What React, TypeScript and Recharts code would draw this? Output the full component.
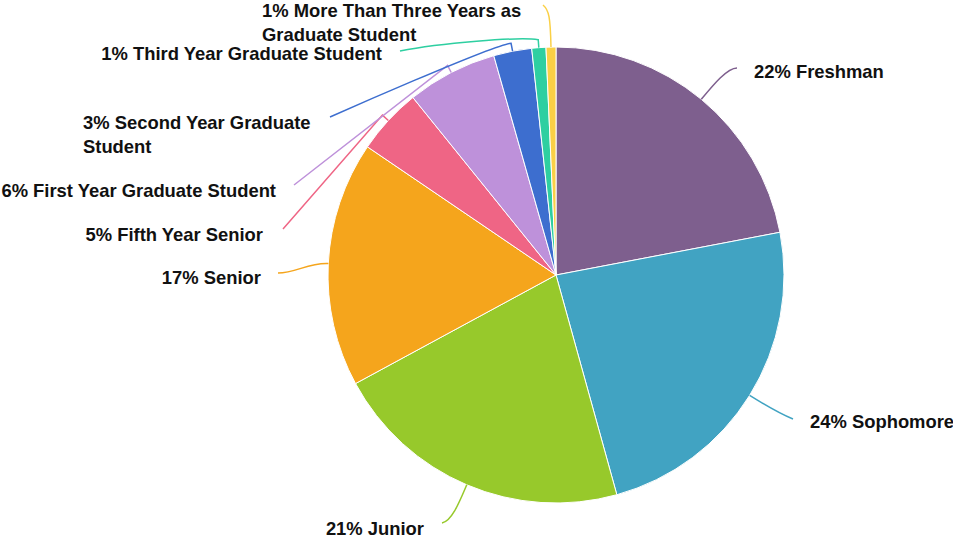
import { PieChart, Pie, Cell } from "recharts";

const classNames = [
  "Freshman",
  "Sophomore",
  "Junior",
  "Senior",
  "Fifth Year Senior",
  "First Year Graduate Student",
  "Second Year Graduate Student",
  "Third Year Graduate Student",
  "More Than Three Years as Graduate Student",
];

// share of respondents, percent
const shares = [22.0, 23.7, 21.4, 17.4, 4.7, 6.4, 2.7, 1.0, 0.7];

const sliceColors = [
  "#7E5F8E",
  "#41A3C2",
  "#97C92B",
  "#F5A51C",
  "#EF6585",
  "#BE91DA",
  "#3D6ECF",
  "#2ECFA1",
  "#FAD046",
];

const data = classNames.map((name, i) => ({ name, value: shares[i] }));

// where each annotation sits (text + end of its leader line)
const labelLayout = [
  { end: [737, 68], tick: 0, k1: 18, c1: [0, 0], c2: [-10, 0], x: 754, y: 78, anchor: "start", breakAfter: 0 },
  { end: [793, 419], tick: 0, k1: 12, c1: [0, 0], c2: [-12, -5], x: 810, y: 428, anchor: "start", breakAfter: 0 },
  { end: [442, 523], tick: 0, k1: 18, c1: [0, 0], c2: [10, -2], x: 424, y: 535, anchor: "end", breakAfter: 0 },
  { end: [278, 273], tick: 0, k1: 20, c1: [0, 0], c2: [18, 0], x: 261, y: 284, anchor: "end", breakAfter: 0 },
  { end: [283, 229], tick: 8, k1: 0, c1: [0, 0], c2: [0, 0], x: 263, y: 241, anchor: "end", breakAfter: 0 },
  { end: [294, 185], tick: 8, k1: 0, c1: [0, 0], c2: [0, 0], x: 276, y: 197, anchor: "end", breakAfter: 0 },
  { end: [330, 117], tick: 8, k1: 0, c1: [-15, 0], c2: [0, 0], x: 83, y: 129, anchor: "start", breakAfter: 4 },
  { end: [400, 51], tick: 8, k1: 0, c1: [-20, -3], c2: [40, -8], x: 382, y: 60, anchor: "end", breakAfter: 0 },
  { end: [543, 5], tick: 0, k1: 30, c1: [0, 0], c2: [6, 5], x: 262, y: 17, anchor: "start", breakAfter: 6 },
];

const RAD = Math.PI / 180;

const renderLabel = (props: any) => {
  const { cx, cy, midAngle, outerRadius, index, percent } = props;
  const lay = labelLayout[index];
  const ux = Math.cos(-midAngle * RAD);
  const uy = Math.sin(-midAngle * RAD);
  const sx = cx + outerRadius * ux;
  const sy = cy + outerRadius * uy;
  const tx = sx + lay.tick * ux;
  const ty = sy + lay.tick * uy;
  const c1x = tx + lay.k1 * ux + lay.c1[0];
  const c1y = ty + lay.k1 * uy + lay.c1[1];
  const [ex, ey] = lay.end;
  const c2x = ex + lay.c2[0];
  const c2y = ey + lay.c2[1];
  const d = `M${sx},${sy} L${tx},${ty} C${c1x},${c1y} ${c2x},${c2y} ${ex},${ey}`;

  const text = `${Math.round(percent * 100)}% ${classNames[index]}`;
  const words = text.split(" ");
  const lines = lay.breakAfter
    ? [words.slice(0, lay.breakAfter).join(" "), words.slice(lay.breakAfter).join(" ")]
    : [text];

  return (
    <g key={`lbl-${index}`}>
      <path d={d} fill="none" stroke={sliceColors[index]} strokeWidth={1.5} />
      <text
        x={lay.x}
        y={lay.y}
        textAnchor={lay.anchor as any}
        fill="#111"
        style={{
          fontFamily: "'Liberation Sans', Arial, sans-serif",
          fontWeight: 700,
          fontSize: 18.4,
        }}
      >
        {lines.map((ln, i) => (
          <tspan key={i} x={lay.x} dy={i === 0 ? 0 : 23.5}>
            {ln}
          </tspan>
        ))}
      </text>
    </g>
  );
};

export default function App() {
  return (
    <div style={{ position: "absolute", left: 0, top: 0, width: 953, height: 542, background: "#fff" }}>
      <PieChart width={953} height={542} margin={{ top: 0, right: 0, bottom: 0, left: 0 }}>
        <Pie
          data={data}
          dataKey="value"
          nameKey="name"
          cx={556}
          cy={275}
          outerRadius={228}
          startAngle={90}
          endAngle={-270}
          stroke="#fff"
          strokeWidth={1}
          label={renderLabel}
          labelLine={false}
          isAnimationActive={false}
        >
          {data.map((entry, i) => (
            <Cell key={entry.name} fill={sliceColors[i]} />
          ))}
        </Pie>
      </PieChart>
    </div>
  );
}
